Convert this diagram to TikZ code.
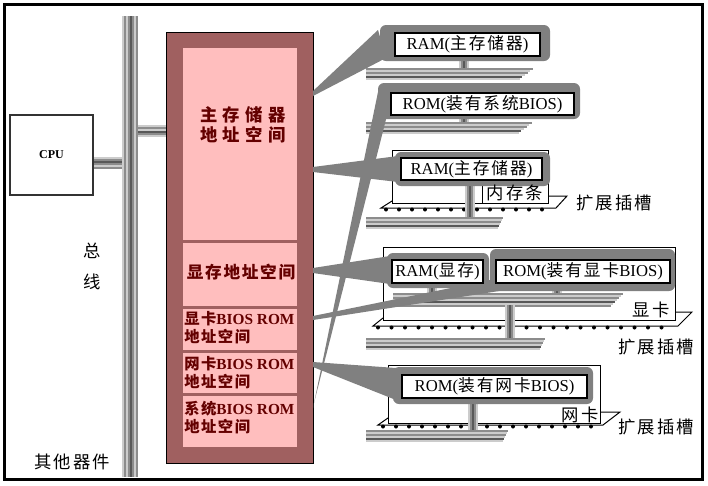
\documentclass[tikz,border=0pt]{standalone}
\usepackage{fontspec}
\setmainfont{Liberation Serif}
\newfontfamily\cjk[LetterSpace=12]{Noto Sans CJK SC}
\newfontfamily\cjkw[LetterSpace=32]{Noto Sans CJK SC}
\newfontfamily\cjks[LetterSpace=10]{Noto Sans CJK SC}
\newdimen\px \px=0.75pt
\definecolor{rose}{HTML}{A06060}
\definecolor{pinkc}{HTML}{FFBEBE}
\definecolor{dred}{HTML}{640000}
\definecolor{blobg}{HTML}{808080}
\definecolor{busA}{gray}{0.55}
\definecolor{busB}{gray}{0.80}
\definecolor{busD}{gray}{0.35}
% vertical striped bus: x left, y top, y bottom, colour list
\newcommand\vstripes[4]{\foreach \c [count=\k from 0] in {#4}{\fill[\c] ({#1+2*\k},#2) rectangle ({#1+2*\k+2},#3);}}
% horizontal striped bus: x left, y top, x right (top stripe), slant per stripe, colour list
\newcommand\hstripes[5]{\foreach \c [count=\k from 0] in {#5}{\fill[\c] (#1,{#2+2*\k}) rectangle ({#3-#4*\k},{#2+2*\k+2});}}
\begin{document}
\begin{tikzpicture}[x=0.75pt,y=-0.75pt,
  lbl/.style={draw=black, line width=1.3\px, fill=white, inner sep=0pt, font=\fontsize{12.5}{14}\selectfont},
  blob/.style={fill=blobg, rounded corners=6\px},
  beam/.style={fill=blobg},
  side/.style={font=\cjk\fontsize{13}{15}\selectfont, inner sep=0pt},
  memtxt/.style={text=dred, font=\bfseries\fontsize{11.5}{13.5}\selectfont, align=left, inner sep=0pt, anchor=west},
  module/.style={draw=black, line width=1\px, fill=white},
  slotline/.style={draw=black, line width=1\px},
]
\useasboundingbox (0,0) rectangle (708,486);
\fill[white] (0,0) rectangle (708,486);
\draw[line width=3\px] (4,4) rectangle (702,479);

% system bus
\vstripes{122}{16}{477}{busB,busA,busB,busA,busD,busA,busB,busA}
\hstripes{138}{125}{166}{0}{busB,busA,busB,busD,busA,busB}
\hstripes{93}{157}{122}{0}{busB,busA,busD,busA,busB,busA}

% CPU
\node[draw=black!80, line width=2.2\px, minimum width=83\px, minimum height=80\px, inner sep=0pt,
      font=\bfseries\fontsize{9}{10}\selectfont] (cpu) at (51.5,155) {CPU};

% memory address space
\draw[fill=rose, line width=1\px] (166,32) rectangle (313,463);
\fill[pinkc] (183,48) rectangle (297,240);
\fill[pinkc] (183,243) rectangle (297,306);
\fill[pinkc] (183,309) rectangle (297,350);
\fill[pinkc] (183,353) rectangle (297,393);
\fill[pinkc] (183,396) rectangle (297,447);
\node[text=dred, font=\cjkw\bfseries\fontsize{13}{15}\selectfont, align=center, inner sep=0pt] (mtitle) at (243,124.5) {主存储器\\地址空间};
\node[text=dred, font=\cjks\bfseries\fontsize{12.5}{14}\selectfont, inner sep=0pt] (vram) at (241,272) {显存地址空间};
\node[memtxt] (vbios) at (184,328) {{\cjks 显卡}BIOS ROM\\{\cjks 地址空间}};
\node[memtxt] (nbios) at (184,372.5) {{\cjks 网卡}BIOS ROM\\{\cjks 地址空间}};
\node[memtxt] (sbios) at (184,417.5) {{\cjks 系统}BIOS ROM\\{\cjks 地址空间}};

% side labels
\node[side] (zong) at (92,251) {总};
\node[side] (xian) at (92,282) {线};
\node[side] (other) at (72,462) {其他器件};

% modules and slots
\draw[module] (392,150) rectangle (548,203);
\draw[slotline] (392,201) -- (381,208) -- (556,208) -- (567,196) -- (548,196);
\foreach \x in {386,399,...,552} \fill (\x,209.5) circle[radius=2\px];
\draw[slotline] (482,184) -- (482,203);

\draw[module] (383,247) rectangle (675,320);
\draw[slotline] (383,318) -- (373,326) -- (678,326) -- (692,312) -- (675,312);
\foreach \x in {378,391.5,...,672} \fill (\x,327.5) circle[radius=2\px];

\draw[module] (388,365) rectangle (600,423);
\draw[slotline] (388,418) -- (378,425) -- (603,425) -- (620,412) -- (600,412);
\foreach \x in {383,396,...,600} \fill (\x,426.5) circle[radius=2\px];

% buses on the right
\vstripes{459}{56}{70}{busB,busA,busD,busA,busB}
\hstripes{366}{68}{533}{2.7}{busA,busB,busA,busB,busD,busB}
\vstripes{459}{115}{124}{busB,busA,busD,busA,busB}
\hstripes{366}{122}{532}{2.7}{busA,busB,busA,busB,busD,busB}
\vstripes{465}{180}{219}{busB,busA,busD,busA,busB}
\hstripes{366}{217}{503}{1}{busA,busB,busA,busB,busD,busB}
\vstripes{427}{283}{295}{busB,busA,busD,busA,busB}
\vstripes{552}{283}{295}{busB,busA,busD,busA,busB}
\hstripes{393}{293}{623}{2}{busA,busB,busA,busB,busD,busB,busA}
\vstripes{505}{305}{340}{busB,busA,busD,busA,busB}
\hstripes{366}{338}{545}{1}{busA,busB,busA,busB,busD,busB}
\vstripes{468}{398}{432}{busB,busA,busD,busA,busB}
\hstripes{366}{430}{508}{1}{busA,busB,busA,busB,busD,busB}

% beams and highlights
\fill[beam] (313,91) -- (378,30) -- (386,58) -- (313,96) -- cycle;
\fill[beam] (313,408) -- (378,92) -- (395,84) -- (314,403) -- cycle;
\fill[beam] (313,167) -- (398,156) -- (398,182) -- (313,172) -- cycle;
\fill[beam] (313,268) -- (390,256) -- (390,284) -- (313,273) -- cycle;
\fill[beam] (313,316) -- (500,278) -- (512,289) -- (313,320) -- cycle;
\fill[beam] (313,362) -- (396,368) -- (396,400) -- (313,367) -- cycle;

\fill[blob] (380,25) rectangle (550,61);
\fill[blob] (378,83) rectangle (580,119);
\fill[blob] (395,152) rectangle (550,186);
\fill[blob] (387,253) rectangle (489,288);
\fill[blob] (490,249) rectangle (675,291);
\fill[blob] (393,367) rectangle (593,404);

% labelled boxes
\node[lbl, minimum width=145\px, minimum height=23\px] (ramA) at (467.5,44.5) {RAM({\cjk 主存储器})};
\node[lbl, minimum width=183\px, minimum height=22\px] (romS) at (482.5,104) {ROM({\cjk 装有系统}BIOS)};
\node[lbl, minimum width=141\px, minimum height=22\px] (ramB) at (471.5,169) {RAM({\cjk 主存储器})};
\node[lbl, minimum width=91\px, minimum height=23\px] (vramB) at (437.5,271.5) {RAM({\cjk 显存})};
\node[lbl, minimum width=174\px, minimum height=23\px] (romV) at (583,271.5) {ROM({\cjk 装有显卡}BIOS)};
\node[lbl, minimum width=185\px, minimum height=23\px] (romN) at (494.5,386.5) {ROM({\cjk 装有网卡}BIOS)};

% texts
\node[side] (ncd) at (515,193) {内存条};
\node[side] (slot1) at (614,203) {扩展插槽};
\node[side] (xk) at (651,310) {显卡};
\node[side] (slot2) at (656,347) {扩展插槽};
\node[side] (wk) at (580,415) {网卡};
\node[side] (slot3) at (656,427) {扩展插槽};
\end{tikzpicture}
\end{document}
